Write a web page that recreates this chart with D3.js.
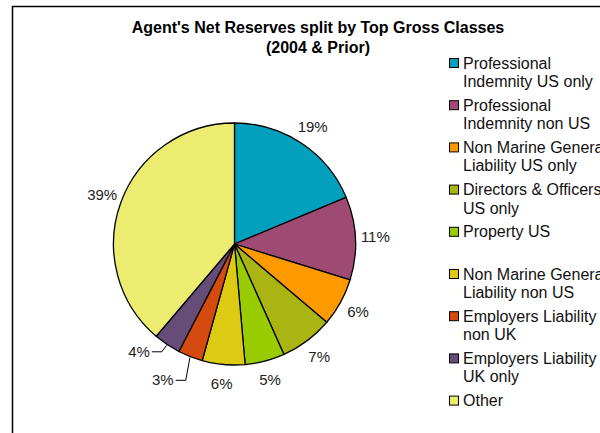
<!DOCTYPE html>
<html>
<head>
<meta charset="utf-8">
<script src="https://cdn.jsdelivr.net/npm/d3@7/dist/d3.min.js"></script>
<style>
  html, body { margin: 0; padding: 0; background: #fff; }
  svg { display: block; font-family: "Liberation Sans", Arial, sans-serif; }
</style>
</head>
<body>
<div id="chart"></div>
<script>
// data (percent of agent's net reserves)
var categories = [
  "Professional Indemnity US only",
  "Professional Indemnity non US",
  "Non Marine General Liability US only",
  "Directors & Officers US only",
  "Property US",
  "Non Marine General Liability non US",
  "Employers Liability non UK",
  "Employers Liability UK only",
  "Other"
];
var legendLines = [
  ["Professional", "Indemnity US only"],
  ["Professional", "Indemnity non US"],
  ["Non Marine General", "Liability US only"],
  ["Directors & Officers", "US only"],
  ["Property US"],
  ["Non Marine General", "Liability non US"],
  ["Employers Liability", "non UK"],
  ["Employers Liability", "UK only"],
  ["Other"]
];
var values = [18.7, 11.1, 6.4, 7.1, 5.3, 5.7, 3.3, 3.6, 38.8];
var colors = ["#03a0be", "#9e4a72", "#ff9900", "#aab514", "#99cc00",
              "#ddcb13", "#d54b0f", "#664d78", "#ecec70"];
var titleLines = ["Agent's Net Reserves split by Top Gross Classes", "(2004 & Prior)"];

var W = 600, H = 433;
var cx = 234.5, cy = 244, R = 121;

var svg = d3.select("#chart").append("svg")
    .attr("width", W).attr("height", H);

svg.append("rect").attr("width", W).attr("height", H).attr("fill", "#fff");

// chart area border (runs off the right and bottom of the picture)
svg.append("rect")
    .attr("x", 12.5).attr("y", 6.5)
    .attr("width", W + 20).attr("height", H + 20)
    .attr("fill", "none").attr("stroke", "#000").attr("stroke-width", 1.5);

// title
svg.append("g").selectAll("text").data(titleLines).enter().append("text")
    .attr("x", 318)
    .attr("y", function(d, i) { return 33 + i * 19.5; })
    .attr("text-anchor", "middle")
    .attr("font-weight", "bold")
    .attr("font-size", 16)
    .attr("fill", "#000")
    .text(function(d) { return d; });

var pie = d3.pie().sort(null).value(function(d) { return d; });
var arcs = pie(values);
var arc = d3.arc().innerRadius(0).outerRadius(R);

var g = svg.append("g").attr("transform", "translate(" + cx + "," + cy + ")");

g.selectAll("path").data(arcs).enter().append("path")
    .attr("d", arc)
    .attr("fill", function(d, i) { return colors[i]; })
    .attr("stroke", "#000")
    .attr("stroke-width", 1.3)
    .attr("stroke-linejoin", "round");

// labels sit outside the pie; the two thin slices are pushed round
// (extra degrees, extra radius) and get a leader line, as Excel did
var labelPush = { 6: [6.3, 33], 7: [7.7, 23] };

function pos(a, r) { return [Math.sin(a) * r, -Math.cos(a) * r]; }

arcs.forEach(function(d, i) {
  var mid = (d.startAngle + d.endAngle) / 2;
  var pct = Math.round(d.data) + "%";
  var push = labelPush[i];
  var a = push ? mid + push[0] * Math.PI / 180 : mid;
  var p = pos(a, R + (push ? push[1] : 20));
  var t = g.append("text")
      .attr("x", p[0]).attr("y", p[1] + 5)
      .attr("text-anchor", "middle")
      .attr("font-size", 15)
      .attr("fill", "#222")
      .text(pct);
  if (push) {
    var w = t.node().getComputedTextLength();
    var edge = pos(mid, R + 1);
    var right = p[0] + w / 2 + 2;
    g.append("path")
        .attr("d", d3.line()([edge, [right + 10, p[1]], [right, p[1]]]))
        .attr("fill", "none").attr("stroke", "#000").attr("stroke-width", 1);
  }
});

// legend
var lg = svg.append("g").attr("transform", "translate(449,58)");
var item = lg.selectAll("g").data(legendLines).enter().append("g")
    .attr("transform", function(d, i) { return "translate(0," + (i * 42.2) + ")"; });

item.append("rect")
    .attr("x", 0.5).attr("y", 0.5).attr("width", 9).attr("height", 9)
    .attr("fill", function(d, i) { return colors[i]; })
    .attr("stroke", "#000").attr("stroke-width", 1);

item.selectAll("text").data(function(d) { return d; }).enter().append("text")
    .attr("x", 14)
    .attr("y", function(d, j) { return 10.5 + j * 18.5; })
    .attr("font-size", 16)
    .attr("fill", "#111")
    .text(function(d) { return d; });
</script>
</body>
</html>
